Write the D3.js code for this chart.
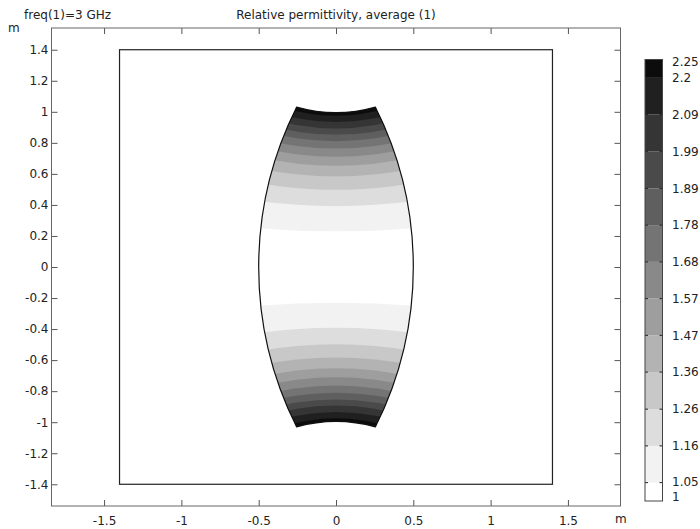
<!DOCTYPE html>
<html>
<head>
<meta charset="utf-8">
<script src="https://cdn.jsdelivr.net/npm/d3@7"></script>
<style>
  body { margin: 0; background: #fff; }
  svg { display: block; }
  text { font-family: "DejaVu Sans", sans-serif; font-size: 12px; fill: #222; }
</style>
</head>
<body>
<div id="chart"></div>
<script>
// Axis ticks
var xTicks = [-1.5, -1, -0.5, 0, 0.5, 1, 1.5];
var yTicks = [-1.4, -1.2, -1, -0.8, -0.6, -0.4, -0.2, 0, 0.2, 0.4, 0.6, 0.8, 1, 1.2, 1.4];

// Colour legend: contour levels and their labels
var levels   = [1, 1.052, 1.156, 1.260, 1.365, 1.469, 1.573, 1.677, 1.781, 1.885, 1.990, 2.094, 2.198, 2.25];
var levelLabels = ["1", "1.05", "1.16", "1.26", "1.36", "1.47", "1.57", "1.68", "1.78", "1.89", "1.99", "2.09", "2.2", "2.25"];
// grey value of each band, lowest band first
var bandGrays = [255, 242, 221, 200, 179, 158, 137, 116, 95, 74, 53, 32, 12];

// Contour lines in the upper half (mirrored below): height at x=0 and bend
var contourY0   = [0.230, 0.392, 0.497, 0.583, 0.652, 0.710, 0.763, 0.810, 0.853, 0.893, 0.934, 0.975];
var contourBend = [0.08, 0.13, 0.175, 0.20, 0.23, 0.25, 0.27, 0.29, 0.31, 0.34, 0.38, 0.45];

// Geometry: air box half size, lens corner, lens half width at y=0, lens mid height
var boxHalf = 1.4;
var lensCorner = [0.255, 1.03];
var lensHalfWidth = 0.5;
var lensMidTop = 0.995;

var W = 700, H = 529;
var svg = d3.select("#chart").append("svg")
  .attr("width", W).attr("height", H);

var x = d3.scaleLinear().domain([-1.84, 1.84]).range([51.5, 620.5]);
var y = d3.scaleLinear().domain([-1.54, 1.54]).range([506, 28]);
var kx = (x(1) - x(0)), ky = (y(0) - y(1));

//Titles
svg.append("text").attr("x", 24).attr("y", 19).text("freq(1)=3 GHz");
svg.append("text").attr("x", 336).attr("y", 19).attr("text-anchor", "middle")
  .text("Relative permittivity, average (1)");
svg.append("text").attr("x", 8).attr("y", 32).text("m");
svg.append("text").attr("x", 615).attr("y", 523).text("m");

//Lens outline (circular arcs)
var cx = lensCorner[0], cy = lensCorner[1];
// side arc: centre on x axis
var sideC = (cx * cx + cy * cy - lensHalfWidth * lensHalfWidth) / (2 * (cx - lensHalfWidth));
var sideR = lensHalfWidth - sideC;
// top arc: centre on y axis
var topC = (cx * cx + cy * cy - lensMidTop * lensMidTop) / (2 * (cy - lensMidTop));
var topR = topC - lensMidTop;

function arcTo(R, sweep, px, py) {
  return "A" + (R * kx) + "," + (R * ky) + " 0 0 " + sweep + " " + x(px) + "," + y(py);
}
var lensPath = "M" + x(-cx) + "," + y(cy)
  + arcTo(topR, 0, cx, cy)
  + arcTo(sideR, 1, cx, -cy)
  + arcTo(topR, 0, -cx, -cy)
  + arcTo(sideR, 1, -cx, cy) + "Z";

svg.append("clipPath").attr("id", "lensClip")
  .append("path").attr("d", lensPath);

var field = svg.append("g").attr("clip-path", "url(#lensClip)");
field.append("path").attr("d", lensPath)
  .attr("fill", d3.rgb(bandGrays[0], bandGrays[0], bandGrays[0]));

// bands: region beyond each contour line gets the next grey
var ext = 0.6;
function bandPath(y0, k, sign) {
  var p = d3.path();
  var ye = y0 + k * ext * ext, yc = y0 - k * ext * ext;
  p.moveTo(x(-ext), y(sign * ye));
  p.quadraticCurveTo(x(0), y(sign * yc), x(ext), y(sign * ye));
  p.lineTo(x(ext), y(sign * 1.3));
  p.lineTo(x(-ext), y(sign * 1.3));
  p.closePath();
  return p.toString();
}
contourY0.forEach(function(y0, i) {
  var g = bandGrays[i + 1];
  [1, -1].forEach(function(s) {
    field.append("path")
      .attr("d", bandPath(y0, contourBend[i], s))
      .attr("fill", d3.rgb(g, g, g));
  });
});

svg.append("path").attr("d", lensPath)
  .attr("fill", "none").attr("stroke", "#111").attr("stroke-width", 1.2);

//Air box
svg.append("rect")
  .attr("x", x(-boxHalf)).attr("y", y(boxHalf))
  .attr("width", x(boxHalf) - x(-boxHalf))
  .attr("height", y(-boxHalf) - y(boxHalf))
  .attr("fill", "none").attr("stroke", "#222").attr("stroke-width", 1.2);

//Axes
var fmt = function(d) { return String(+d.toFixed(2)); };
var axes = [
  { a: d3.axisBottom(x).tickValues(xTicks).tickFormat(fmt).tickPadding(10), t: "translate(0," + y.range()[0] + ")" },
  { a: d3.axisTop(x).tickValues(xTicks).tickFormat(""), t: "translate(0," + y.range()[1] + ")" },
  { a: d3.axisLeft(y).tickValues(yTicks).tickFormat(fmt).tickPadding(3), t: "translate(" + x.range()[0] + ",0)" },
  { a: d3.axisRight(y).tickValues(yTicks).tickFormat(""), t: "translate(" + x.range()[1] + ",0)" }
];
axes.forEach(function(o) {
  var g = svg.append("g").attr("transform", o.t)
    .call(o.a.tickSizeInner(-6).tickSizeOuter(0));
  g.select(".domain").remove();
  g.selectAll("line").attr("stroke", "#555");
  g.selectAll("text").attr("font-size", 12).attr("font-family", "DejaVu Sans, sans-serif").attr("fill", "#222");
});

svg.append("rect")
  .attr("x", x.range()[0]).attr("y", y.range()[1])
  .attr("width", x.range()[1] - x.range()[0])
  .attr("height", y.range()[0] - y.range()[1])
  .attr("fill", "none").attr("stroke", "#666").attr("stroke-width", 1);

//Colour legend
var cb = { x: 645, w: 17.5 };
var cy2 = d3.scaleLinear().domain([levels[0], levels[levels.length - 1]]).range([501, 59.5]);
var legend = svg.append("g");
bandGrays.forEach(function(g, i) {
  legend.append("rect")
    .attr("x", cb.x).attr("width", cb.w)
    .attr("y", cy2(levels[i + 1]))
    .attr("height", cy2(levels[i]) - cy2(levels[i + 1]))
    .attr("fill", d3.rgb(g, g, g));
});
levels.slice(1, -1).forEach(function(v) {
  legend.append("line").attr("x1", cb.x).attr("x2", cb.x + 3)
    .attr("y1", cy2(v)).attr("y2", cy2(v)).attr("stroke", "#222");
  legend.append("line").attr("x1", cb.x + cb.w - 3).attr("x2", cb.x + cb.w)
    .attr("y1", cy2(v)).attr("y2", cy2(v)).attr("stroke", "#222");
});
legend.append("rect")
  .attr("x", cb.x).attr("y", cy2.range()[1])
  .attr("width", cb.w).attr("height", cy2.range()[0] - cy2.range()[1])
  .attr("fill", "none").attr("stroke", "#444").attr("stroke-width", 1);

legend.selectAll(".cblabel")
  .data(levels)
  .enter().append("text")
  .attr("class", "cblabel")
  .attr("x", 672)
  .attr("font-size", 11.5)
  .attr("y", function(d, i) {
    var p = cy2(d);
    if (i === 0) p -= 4;
    if (i === 1) p -= 1;
    if (i === levels.length - 1) p += 2;
    return p;
  })
  .attr("dy", "0.35em")
  .text(function(d, i) { return levelLabels[i]; });
</script>
</body>
</html>
